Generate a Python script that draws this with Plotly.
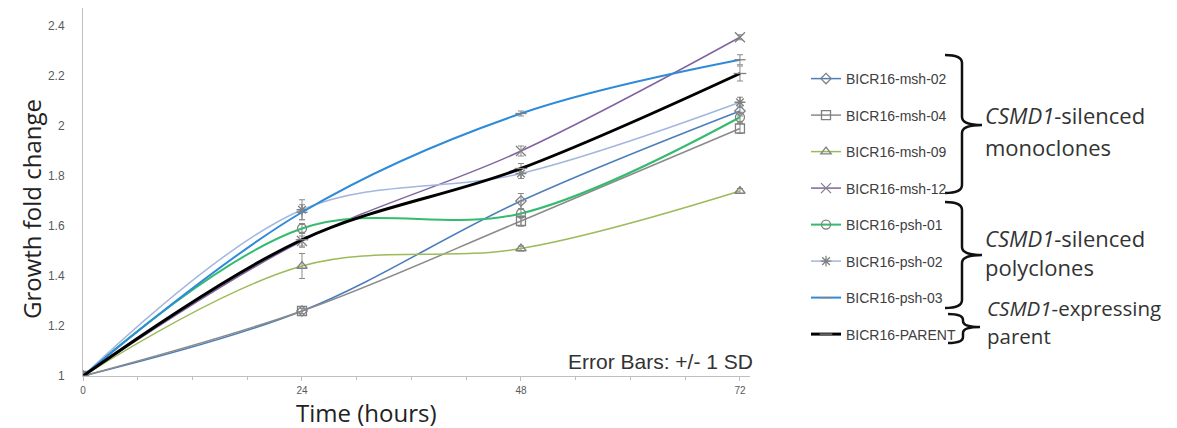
import plotly.graph_objects as go

# ---------------- data ----------------
hours = [0, 24, 48, 72]
series_names = ["BICR16-msh-02", "BICR16-msh-04", "BICR16-msh-09", "BICR16-msh-12",
                "BICR16-psh-01", "BICR16-psh-02", "BICR16-psh-03", "BICR16-PARENT"]
msh02 = [1.0, 1.26, 1.70, 2.06]
msh04 = [1.0, 1.26, 1.62, 1.99]
msh09 = [1.0, 1.44, 1.51, 1.74]
msh12 = [1.0, 1.54, 1.90, 2.355]
psh01 = [1.0, 1.59, 1.65, 2.035]
psh02 = [1.0, 1.665, 1.81, 2.095]
psh03 = [1.0, 1.655, 2.05, 2.265]
parent = [1.0, 1.545, 1.83, 2.21]

sd_msh02 = [0, 0.01, 0.03, 0.02]
sd_msh04 = [0, 0.01, 0.02, 0.02]
sd_msh09 = [0, 0.05, 0.01, 0.01]
sd_msh12 = [0, 0.02, 0.02, 0.01]
sd_psh01 = [0, 0.02, 0.05, 0.02]
sd_psh02 = [0, 0.04, 0.02, 0.02]
sd_psh03 = [0, 0.03, 0.01, 0.02]
sd_parent = [0, 0.03, 0.02, 0.03]

x_ticks = [0, 24, 48, 72]
y_ticks = [1, 1.2, 1.4, 1.6, 1.8, 2, 2.2, 2.4]

group_labels = [("CSMD1", "-silenced", "monoclones"),
                ("CSMD1", "-silenced", "polyclones"),
                ("CSMD1", "-expressing", "parent")]

# ---------------- styles ----------------
values = [msh02, msh04, msh09, msh12, psh01, psh02, psh03, parent]
sds = [sd_msh02, sd_msh04, sd_msh09, sd_msh12, sd_psh01, sd_psh02, sd_psh03, sd_parent]
colors = ["#4A7EBB", "#8A8A8A", "#9BBB59", "#8064A2", "#33BB6E", "#A3B6E0", "#2E8BD8", "#000000"]
widths = [1.5, 1.5, 1.5, 1.5, 2, 1.5, 2, 3]
symbols = ["diamond-open", "square-open", "triangle-up-open", "x-thin-open", "circle-open",
           "asterisk-open", "line-ew-open", "line-ew-open"]
msizes = [8, 9, 9, 10, 9, 9, 8, 9]

# page body has an 8px margin: design in reference pixels, convert with OFF
OFF = 8
W, H = 1169, 420
L, T = 83 - OFF, 0
PLOT_BOTTOM = 376 - OFF
PLOT_RIGHT = 750 - OFF
R, B = W - PLOT_RIGHT, H - PLOT_BOTTOM
PW, PH = W - L - R, H - T - B
Y_TOP = 1 + PH / 250.0


def px(x):
    return (x - OFF - L) / PW


def py(y):
    return (PLOT_BOTTOM - (y - OFF)) / PH


fig = go.Figure()
for name, v, sd, c, w, s, ms in zip(series_names, values, sds, colors, widths, symbols, msizes):
    fig.add_trace(go.Scatter(
        x=hours, y=v, name=name, legendgroup=name,
        mode="lines+markers",
        line=dict(color=c, width=w, shape="spline", smoothing=1),
        marker=dict(symbol=s, size=ms, color="#808080", line=dict(width=1.3, color="#808080")),
        error_y=dict(type="data", array=sd, visible=True, color="#8a8a8a", thickness=1, width=3),
    ))

# braces
def brace(xt, xs, xm, yt, ym, yb, r):
    pts = [
        ("M", [(xt, yt)]),
        ("Q", [(xs, yt), (xs, yt + r)]),
        ("L", [(xs, ym - r)]),
        ("Q", [(xs, ym), (xm, ym)]),
        ("Q", [(xs, ym), (xs, ym + r)]),
        ("L", [(xs, yb - r)]),
        ("Q", [(xs, yb), (xt, yb)]),
    ]
    path = ""
    for cmd, ps in pts:
        path += cmd + " " + " ".join(f"{px(a):.5f},{py(b):.5f}" for a, b in ps) + " "
    return dict(type="path", xref="paper", yref="paper", path=path.strip(),
                line=dict(color="#111111", width=2.5))

fig.add_shape(brace(945, 962, 982, 55, 125, 193, 8))
fig.add_shape(brace(945, 962, 982, 202, 255, 308, 8))
fig.add_shape(brace(948, 963, 980, 314, 327, 343, 6))

label_pos = [(983, 115, 147, 22), (983, 238, 267, 22), (985, 308, 336, 20.5)]
for (it, rest, second), (lx, y1, y2, fs) in zip(group_labels, label_pos):
    fig.add_annotation(x=px(lx), y=py(y1), xref="paper", yref="paper", xanchor="left", yanchor="middle",
                       text=f"<i>{it}</i>{rest}", showarrow=False,
                       font=dict(family="Open Sans", size=fs, color="#333333"))
    fig.add_annotation(x=px(lx), y=py(y2), xref="paper", yref="paper", xanchor="left", yanchor="middle",
                       text=second, showarrow=False,
                       font=dict(family="Open Sans", size=fs, color="#333333"))

fig.add_annotation(x=px(755), y=py(361), xref="paper", yref="paper", xanchor="right", yanchor="middle",
                   text="Error Bars: +/- 1 SD", showarrow=False,
                   font=dict(family="Liberation Sans", size=21, color="#333333"))

# axis titles
fig.add_annotation(x=px(366), y=py(412), xref="paper", yref="paper", xanchor="center", yanchor="middle",
                   text="Time (hours)", showarrow=False,
                   font=dict(family="Open Sans", size=24, color="#222222"))
fig.add_annotation(x=px(31), y=py(209), xref="paper", yref="paper", xanchor="center", yanchor="middle",
                   text="Growth fold change", showarrow=False, textangle=-90,
                   font=dict(family="Open Sans", size=24, color="#222222"))

fig.update_layout(
    width=W, height=H,
    margin=dict(l=L, r=R, t=T, b=B),
    paper_bgcolor="white", plot_bgcolor="white",
    showlegend=True,
    legend=dict(xref="container", yref="container", x=(806 - OFF) / W, y=1 - (63 - OFF) / H,
                xanchor="left", yanchor="top", maxheight=410,
                font=dict(family="Liberation Sans", size=14, color="#404040"),
                tracegroupgap=15.3, itemwidth=30, bgcolor="rgba(0,0,0,0)"),
    xaxis=dict(range=[0, 73.1], tickvals=x_ticks, ticktext=[str(t) for t in x_ticks],
               showgrid=False, zeroline=False, showline=True, linecolor="#BFBFBF", linewidth=1,
               ticks="outside", ticklen=4, tickcolor="#BFBFBF", ticklabelstandoff=1,
               minor=dict(dtick=6, tick0=0, ticks="outside", ticklen=3, tickcolor="#BFBFBF"),
               tickfont=dict(family="Liberation Sans", size=10, color="#595959")),
    yaxis=dict(range=[1, Y_TOP], tickvals=y_ticks, ticktext=[f"{t:g}" for t in y_ticks],
               showgrid=False, zeroline=False, showline=True, linecolor="#BFBFBF", linewidth=1,
               ticks="", ticklabelstandoff=15,
               tickfont=dict(family="Liberation Sans", size=12, color="#595959")),
)

fig.write_html("out.html")
